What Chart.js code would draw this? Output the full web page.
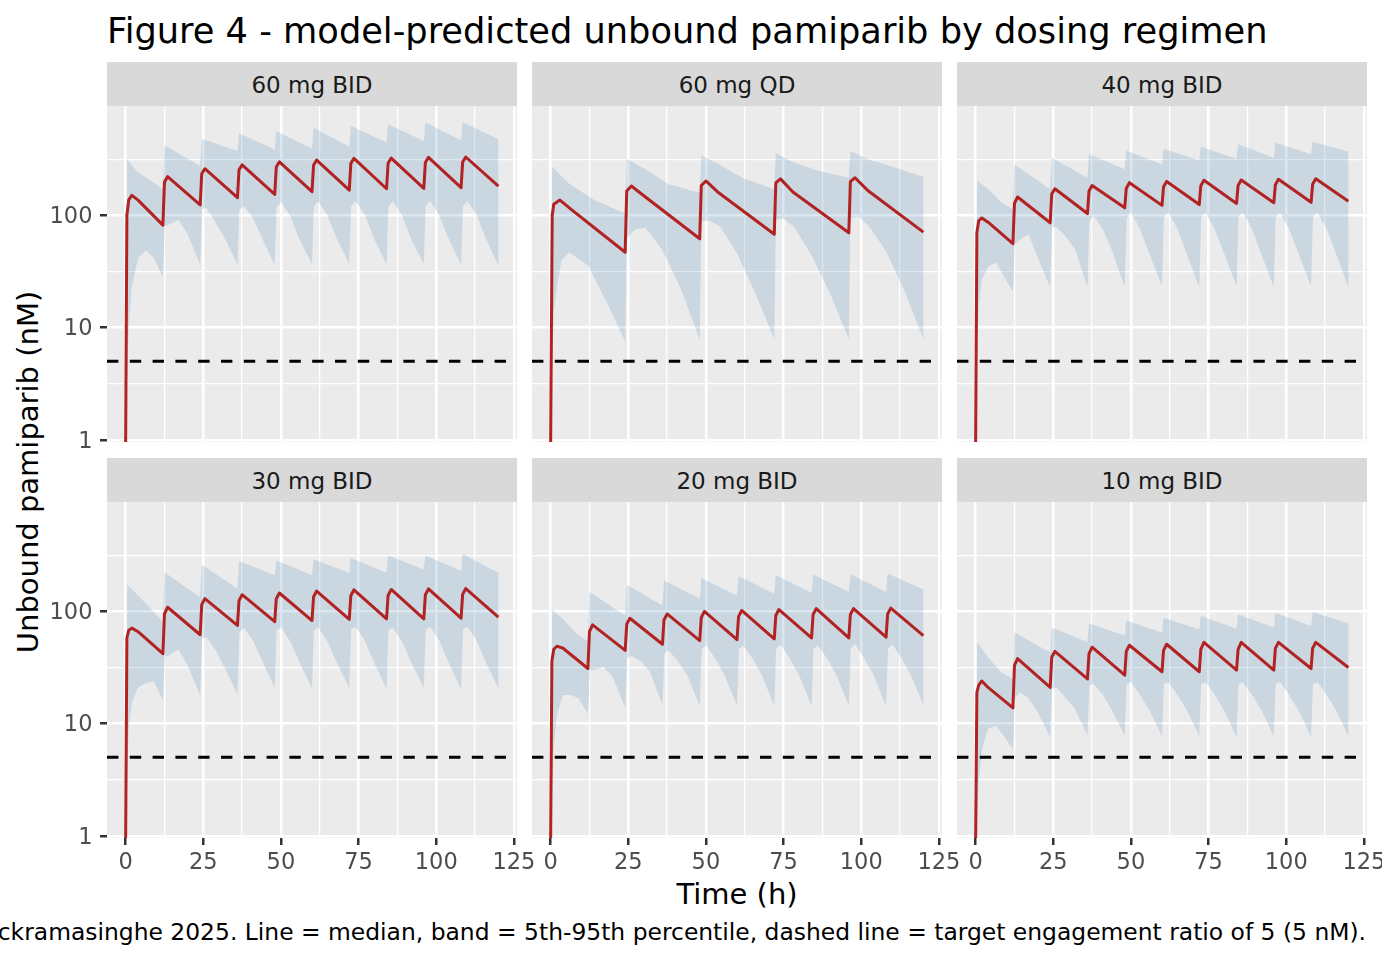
<!DOCTYPE html>
<html>
<head>
<meta charset="utf-8">
<title>Figure 4 - unbound pamiparib</title>
<script src="https://cdn.jsdelivr.net/npm/chart.js@4.4.1/dist/chart.umd.min.js"></script>
<style>
  html, body { margin: 0; padding: 0; background: #fff; }
  #fig { position: relative; width: 1382px; height: 960px; overflow: hidden;
         font-family: 'DejaVu Sans', sans-serif; color: #000; }
  #fig canvas { position: absolute; }
  .strip { position: absolute; width: 410px; height: 44px; background: #D9D9D9; color: #1A1A1A;
           font-size: 23px; line-height: 46px; text-align: center; white-space: nowrap; }
  #title { position: absolute; left: 107px; top: 30px; transform: translateY(-50%);
           font-size: 35.2px; line-height: 35px; white-space: nowrap; }
  #ytitle { position: absolute; left: 28px; top: 472px; transform: translate(-50%, -50%) rotate(-90deg);
            font-size: 29px; line-height: 29px; white-space: nowrap; }
  #xtitle { position: absolute; left: 737px; top: 894px; transform: translate(-50%, -50%);
            font-size: 29px; line-height: 29px; white-space: nowrap; }
  #caption { position: absolute; right: 16px; top: 932px; transform: translateY(-50%);
             font-size: 23.42px; line-height: 23px; white-space: nowrap; }
</style>
</head>
<body>
<div id="fig">
  <div id="title">Figure 4 - model-predicted unbound pamiparib by dosing regimen</div>
  <div id="ytitle">Unbound pamiparib (nM)</div>
  <div id="xtitle">Time (h)</div>
  <div id="caption">Source: Wickramasinghe 2025. Line = median, band = 5th-95th percentile, dashed line = target engagement ratio of 5 (5 nM).</div>
</div>
<script>
// ---- axes ----
const xMin = -6, xMax = 126;
const xMajor = [0, 25, 50, 75, 100, 125];
const xGrid = [0, 12.5, 25, 37.5, 50, 62.5, 75, 87.5, 100, 112.5, 125];
const yMin = 0.955, yMax = 946;
const yMajor = [1, 10, 100];
const yGrid = [1, 3.1623, 10, 31.623, 100, 316.23];
const targetConc = 5;

const regimens = ['60 mg BID', '60 mg QD', '40 mg BID', '30 mg BID', '20 mg BID', '10 mg BID'];

// ---- time grids (h) ----
const tMedBID = [0, 0.4, 1, 2, 4, 12, 12.5, 13.5, 24, 24.5, 25.5, 36, 36.5, 37.5, 48, 48.5, 49.5,
  60, 60.5, 61.5, 72, 72.5, 73.5, 84, 84.5, 85.5, 96, 96.5, 97.5, 108, 108.5, 109.5, 120];
const tUpBID = [0, 0.5, 4, 8, 12, 12.5, 24, 24.5, 36, 36.5, 48, 48.5, 60, 60.5, 72, 72.5,
  84, 84.5, 96, 96.5, 108, 108.5, 120];
const tLoBID = [0, 0.5, 1, 2, 4, 6.5, 9, 12, 12.6, 14, 17, 20, 24, 24.6, 26, 29, 32,
  36, 36.6, 38, 41, 44, 48, 48.6, 50, 53, 56, 60, 60.6, 62, 65, 68, 72, 72.6, 74, 77, 80,
  84, 84.6, 86, 89, 92, 96, 96.6, 98, 101, 104, 108, 108.6, 110, 113, 116, 120];
const tMedQD = [0, 0.5, 1, 3, 7, 24, 24.5, 26, 30, 48, 48.5, 50, 54, 72, 72.5, 74, 78, 96, 96.5, 98, 102, 120];
const tUpQD = [0, 0.5, 6, 14, 24, 24.5, 30, 38, 48, 48.5, 54, 62, 72, 72.5, 78, 86, 96, 96.5, 102, 110, 120];
const tLoQD = [0, 0.5, 1, 2, 3.5, 6, 12, 18, 24, 24.5, 27, 30.5, 36, 42, 48, 48.5, 51, 54.5, 60, 66,
  72, 72.5, 75, 78.5, 84, 90, 96, 96.5, 99, 102.5, 108, 114, 120];

// ---- median (nM) ----
const med60BID = [0.93, 100, 138, 151, 137, 82, 198, 222, 124, 235, 261, 144, 255, 283, 154, 270, 301,
  163, 280, 312, 168, 290, 323, 173, 292, 325, 174, 297, 330, 177, 300, 332, 183];
const med60QD = [0.93, 100, 126, 137, 111, 47, 165, 183, 150, 62, 185, 203, 160, 68, 195, 212, 162, 70, 200, 217, 168, 71];
const med40BID = [0.95, 70, 90, 95, 87, 56, 128, 146, 86, 155, 173, 104, 165, 185, 117, 175, 196,
  123, 180, 201, 125, 184, 206, 128, 185, 207, 130, 188, 210, 131, 190, 212, 134];
const med30BID = [0.93, 58, 68, 71, 66, 42, 95, 109, 62, 115, 130, 75, 125, 141, 81, 130, 146,
  83, 135, 152, 85, 138, 156, 86, 139, 157, 86, 141, 159, 87, 142, 160, 89];
const med20BID = [0.93, 36, 46, 49, 47, 31, 66, 76, 45, 77, 87, 51, 84, 95, 55, 88, 100,
  56, 90, 102, 57, 92, 104, 58, 94, 106, 58, 94, 106, 59, 95, 107, 61];
const med10BID = [0.93, 19, 22, 24, 21, 13.8, 33, 38, 21, 39, 44, 25, 42, 48, 27, 44, 50,
  29, 45, 51, 29, 46, 53, 30, 46, 53, 30, 47, 53, 31, 47, 53, 31.6];

// ---- 95th percentile (nM) ----
const up60BID = [0.93, 316, 242, 205, 173, 422, 276, 484, 375, 540, 388, 562, 394, 604, 410, 627, 446, 650, 460, 678, 466, 678, 477];
const up60QD = [0.93, 272, 192, 137, 104, 321, 262, 190, 159, 343, 288, 215, 171, 358, 300, 250, 217, 375, 318, 272, 221];
const up40BID = [0.95, 205, 172, 133, 113, 285, 171, 327, 217, 351, 258, 380, 285, 394, 310, 410, 320, 431, 327, 446, 351, 455, 370];
const up30BID = [0.93, 173, 139, 106, 81, 224, 134, 261, 159, 281, 210, 285, 210, 291, 221, 299, 221, 316, 237, 316, 230, 327, 220];
const up20BID = [0.93, 104, 85, 65, 54, 149, 92, 173, 113, 189, 130, 199, 139, 207, 144, 210, 147, 214, 149, 215, 149, 218, 157];
const up10BID = [0.93, 53, 39, 29, 25, 65, 43, 72, 53, 78, 61, 83, 65, 88, 69, 91, 70, 94, 72, 97, 74, 99, 78];

// ---- 5th percentile (nM) ----
const lo60BID = [0.93, 4, 10, 23, 42, 49, 42, 28, 80, 83, 92, 68, 36.5, 113, 117, 86, 62,
  36.5, 113, 121, 95, 62, 36, 118, 132, 99, 61, 36.5, 120, 134, 100, 62, 37, 121, 135, 101, 62,
  36.5, 120, 134, 100, 61, 37, 121, 135, 100, 62, 36.5, 120, 135, 101, 62, 36];
const lo60QD = [0.93, 5, 13.5, 23, 40, 47, 36, 17, 7.5, 63, 74, 78, 49, 22, 7.8, 89, 90, 80, 46, 20,
  7.9, 92, 94, 78, 44, 20, 7.9, 94, 98, 80, 48, 21, 7.9];
const lo40BID = [0.95, 6, 15.5, 27, 35, 38, 29, 21, 55, 60, 68, 42, 23, 78, 79, 65, 50,
  23, 89, 100, 75, 48, 23, 95, 106, 75, 45, 23.5, 96, 106, 76, 45, 23, 95, 107, 75, 46,
  23.5, 96, 107, 76, 45, 23, 96, 106, 75, 45, 23.5, 96, 107, 76, 46, 23];
const lo30BID = [0.93, 3.5, 9, 15.5, 21, 23, 24, 16, 39, 41, 46, 33, 17.8, 57, 59, 45, 31,
  18.4, 65, 72, 55, 36, 21, 68, 72, 54, 35, 20.7, 68, 72, 54, 35, 20.7, 69, 73, 55, 35,
  20.5, 68, 72, 54, 35, 20.7, 69, 73, 55, 35, 20.5, 69, 73, 55, 35, 20.7];
const lo20BID = [0.93, 2.5, 6, 12, 18, 18, 16.8, 12.2, 30, 30, 32, 26, 14, 38, 40, 36, 29,
  14.5, 42, 45, 36, 27, 14.5, 46, 50, 38, 27, 14.5, 46, 50, 38, 27, 14.5, 47, 51, 38, 27,
  14.3, 46, 50, 38, 27, 14.5, 47, 51, 38, 27, 14.3, 47, 51, 38, 27, 14.5];
const lo10BID = [0.93, 1.5, 3.0, 5.9, 9, 9.6, 7.8, 5.9, 16.4, 19, 17, 12.6, 7.6, 20.4, 21, 17, 13.5,
  7.8, 22, 22.6, 18, 13, 7.8, 22.5, 23.4, 18, 13, 7.7, 22.5, 23.4, 18, 13.2, 7.7, 22.6, 23.5, 18, 13,
  7.6, 22.5, 23.4, 18, 13.2, 7.7, 22.6, 23.5, 18, 13, 7.6, 22.6, 23.5, 18, 13.2, 7.7];

const panels = [
  { tMed: tMedBID, med: med60BID, tUp: tUpBID, up: up60BID, tLo: tLoBID, lo: lo60BID },
  { tMed: tMedQD,  med: med60QD,  tUp: tUpQD,  up: up60QD,  tLo: tLoQD,  lo: lo60QD },
  { tMed: tMedBID, med: med40BID, tUp: tUpBID, up: up40BID, tLo: tLoBID, lo: lo40BID },
  { tMed: tMedBID, med: med30BID, tUp: tUpBID, up: up30BID, tLo: tLoBID, lo: lo30BID },
  { tMed: tMedBID, med: med20BID, tUp: tUpBID, up: up20BID, tLo: tLoBID, lo: lo20BID },
  { tMed: tMedBID, med: med10BID, tUp: tUpBID, up: up10BID, tLo: tLoBID, lo: lo10BID }
];

// ---- layout ----
const FONT = "'DejaVu Sans', sans-serif";
const colLeft = [107, 532, 957];
const rowTop = [106, 502];
const stripTop = [62, 458];
const PW = 410, PH = 336, AXW = 100, AXH = 70, PADR = 20;
const NOCLIP = { left: 0, top: 0, right: 0, bottom: 0 };

Chart.defaults.font.family = FONT;

const panelBg = {
  id: 'panelBg',
  beforeDraw(chart) {
    const a = chart.chartArea, ctx = chart.ctx;
    ctx.save();
    ctx.fillStyle = '#EBEBEB';
    ctx.fillRect(a.left, a.top, a.right - a.left, a.bottom - a.top);
    ctx.restore();
  }
};

function pts(t, v) { return t.map((x, i) => ({ x: x, y: v[i] })); }
const isMajorX = v => xMajor.indexOf(v) >= 0;
const isMajorY = v => yMajor.some(m => Math.abs(m - v) < 1e-6);
function fixSize(s, w, h) {
  if (w != null) s.width = w;
  if (h != null) s.height = h;
  s.paddingLeft = 0; s.paddingRight = 0; s.paddingTop = 0; s.paddingBottom = 0;
}

const fig = document.getElementById('fig');

panels.forEach(function (p, i) {
  const c = i % 3, r = Math.floor(i / 3);

  const strip = document.createElement('div');
  strip.className = 'strip';
  strip.style.left = colLeft[c] + 'px';
  strip.style.top = stripTop[r] + 'px';
  strip.textContent = regimens[i];
  fig.appendChild(strip);

  const cv = document.createElement('canvas');
  cv.width = AXW + PW + PADR;
  cv.height = PH + AXH;
  cv.style.width = cv.width + 'px';
  cv.style.height = cv.height + 'px';
  cv.style.left = (colLeft[c] - AXW) + 'px';
  cv.style.top = rowTop[r] + 'px';
  fig.appendChild(cv);

  // ribbon as one closed shape: 95th forward, 5th backward
  const band = pts(p.tUp, p.up).concat(pts(p.tLo, p.lo).reverse());

  new Chart(cv, {
    type: 'line',
    data: {
      datasets: [
        { label: 'target', data: [{ x: xMin, y: targetConc }, { x: xMax, y: targetConc }],
          borderColor: '#000000', borderWidth: 3, borderDash: [11.4, 11.4], pointRadius: 0,
          fill: false, order: 0, clip: NOCLIP },
        { label: 'median', data: pts(p.tMed, p.med), borderColor: '#B22222', borderWidth: 3,
          borderJoinStyle: 'round', pointRadius: 0, fill: false, order: 1, clip: NOCLIP },
        { label: 'band', data: band, borderColor: 'rgba(0,0,0,0)', borderWidth: 0,
          backgroundColor: 'rgba(70,130,180,0.2)', pointRadius: 0, fill: 'shape', order: 2, clip: NOCLIP }
      ]
    },
    options: {
      responsive: false,
      animation: false,
      devicePixelRatio: 1,
      events: [],
      layout: { padding: { left: 0, top: 0, right: PADR, bottom: 0 } },
      plugins: { legend: { display: false }, tooltip: { enabled: false } },
      scales: {
        x: {
          type: 'linear', min: xMin, max: xMax,
          afterBuildTicks: s => { s.ticks = xGrid.map(v => ({ value: v })); },
          afterFit: s => fixSize(s, null, AXH),
          border: { display: false },
          grid: {
            color: '#FFFFFF',
            lineWidth: ctx => (ctx.tick && isMajorX(ctx.tick.value)) ? 2.5 : 1.25,
            drawTicks: r === 1, tickLength: 7, tickWidth: 2.5,
            tickColor: ctx => (ctx.tick && isMajorX(ctx.tick.value)) ? '#333333' : 'rgba(0,0,0,0)'
          },
          ticks: {
            display: r === 1, autoSkip: false, maxRotation: 0, minRotation: 0, padding: 5,
            color: '#4D4D4D', font: { family: FONT, size: 22.5 },
            callback: v => isMajorX(v) ? String(v) : ''
          }
        },
        y: {
          type: 'logarithmic', min: yMin, max: yMax,
          afterBuildTicks: s => { s.ticks = yGrid.map(v => ({ value: v })); },
          afterFit: s => fixSize(s, AXW, null),
          border: { display: false },
          grid: {
            color: '#FFFFFF',
            lineWidth: ctx => (ctx.tick && isMajorY(ctx.tick.value)) ? 2.5 : 1.25,
            drawTicks: c === 0, tickLength: 7, tickWidth: 2.5,
            tickColor: ctx => (ctx.tick && isMajorY(ctx.tick.value)) ? '#333333' : 'rgba(0,0,0,0)'
          },
          ticks: {
            display: c === 0, autoSkip: false, padding: 7.5, labelOffset: 2,
            color: '#4D4D4D', font: { family: FONT, size: 22.5 },
            callback: v => isMajorY(v) ? String(Math.round(v)) : ''
          }
        }
      }
    },
    plugins: [panelBg]
  });
});
</script>
</body>
</html>
